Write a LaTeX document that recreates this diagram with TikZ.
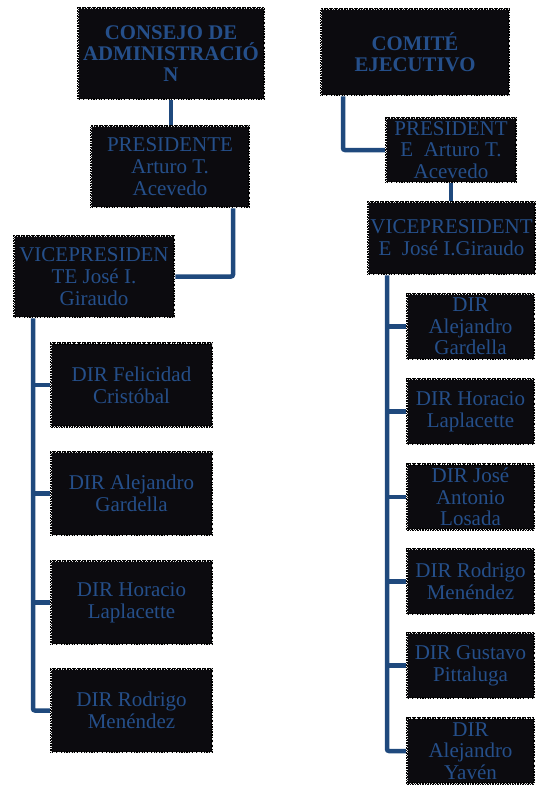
\documentclass[tikz,border=0pt]{standalone}
\usepackage{fontspec}
\setmainfont{Liberation Serif}
\usetikzlibrary{backgrounds}
\definecolor{boxfill}{RGB}{12,11,15}
\definecolor{txtblue}{RGB}{37,79,138}
\definecolor{lineblue}{RGB}{31,73,125}
\begin{document}
\begin{tikzpicture}[x=1pt,y=-1pt,
  box/.style={rectangle, fill=boxfill, draw=black, line width=2.5pt,
    dash pattern=on 1.6pt off 0.9pt, text=txtblue, align=center, inner sep=0pt,
    font=\fontsize{21}{21.7}\selectfont,
    postaction={draw=white!85!black, line width=0.5pt, dash pattern=on 0.6pt off 2.2pt}},
  titlebox/.style={box, font=\fontsize{20.8}{21}\selectfont\bfseries},
  dirL/.style={box, minimum width=161pt, minimum height=83pt},
  dirR/.style={box, minimum width=127pt, minimum height=65pt},
  conn/.style={draw=lineblue, line width=4.5pt, rounded corners=2pt},
]
\useasboundingbox (0,0) rectangle (537,785);

% left column
\node[titlebox, minimum width=186pt, minimum height=91pt] (consejo) at (171,53.5) {CONSEJO DE\\ADMINISTRACIÓ\\N};
\node[box, minimum width=158pt, minimum height=81pt] (pres1) at (170,166.5) {PRESIDENTE\\Arturo T.\\Acevedo};
\node[box, minimum width=160pt, minimum height=81pt] (vp1) at (94,276.5) {VICEPRESIDEN\\TE José I.\\Giraudo};
\node[dirL] (l1) at (131.5,385) {DIR Felicidad\\Cristóbal};
\node[dirL] (l2) at (131.5,493.5) {DIR Alejandro\\Gardella};
\node[dirL] (l3) at (131.5,602.5) {DIR Horacio\\Laplacette};
\node[dirL] (l4) at (131.5,710.5) {DIR Rodrigo\\Menéndez};

% right column
\node[titlebox, minimum width=188pt, minimum height=86pt] (comite) at (415,52) {COMITÉ\\EJECUTIVO};
\node[box, minimum width=130pt, minimum height=64pt] (pres2) at (451,150) {PRESIDENT\\E\ \ Arturo T.\\Acevedo};
\node[box, minimum width=167pt, minimum height=72pt] (vp2) at (451.5,238) {VICEPRESIDENT\\E\ \ José I.Giraudo};
\node[dirR] (r1) at (470.5,326.5) {DIR\\Alejandro\\Gardella};
\node[dirR] (r2) at (470.5,411.5) {DIR Horacio\\Laplacette};
\node[dirR] (r3) at (470.5,497) {DIR José\\Antonio\\Losada};
\node[dirR] (r4) at (470.5,581.5) {DIR Rodrigo\\Menéndez};
\node[dirR] (r5) at (470.5,665.5) {DIR Gustavo\\Pittaluga};
\node[dirR] (r6) at (470.5,751) {DIR\\Alejandro\\Yavén};

\coordinate (p1b) at ([xshift=63pt]pres1.south);
\coordinate (v1b) at ([xshift=-61pt]vp1.south);
\coordinate (cb) at ([xshift=-72pt]comite.south);
\coordinate (v2b) at ([xshift=-64.5pt]vp2.south);

\begin{scope}[on background layer]
\draw[conn] (consejo.south) -- (consejo.south |- pres1.north);
\draw[conn] (p1b) |- (vp1.east);
\draw[conn] (v1b) |- (l4.west);
\draw[conn] (v1b |- l1.west) -- (l1.west);
\draw[conn] (v1b |- l2.west) -- (l2.west);
\draw[conn] (v1b |- l3.west) -- (l3.west);

\draw[conn] (cb) |- (pres2.west);
\draw[conn] (pres2.south) -- (pres2.south |- vp2.north);
\draw[conn] (v2b) |- (r6.west);
\draw[conn] (v2b |- r1.west) -- (r1.west);
\draw[conn] (v2b |- r2.west) -- (r2.west);
\draw[conn] (v2b |- r3.west) -- (r3.west);
\draw[conn] (v2b |- r4.west) -- (r4.west);
\draw[conn] (v2b |- r5.west) -- (r5.west);
\end{scope}
\end{tikzpicture}
\end{document}
